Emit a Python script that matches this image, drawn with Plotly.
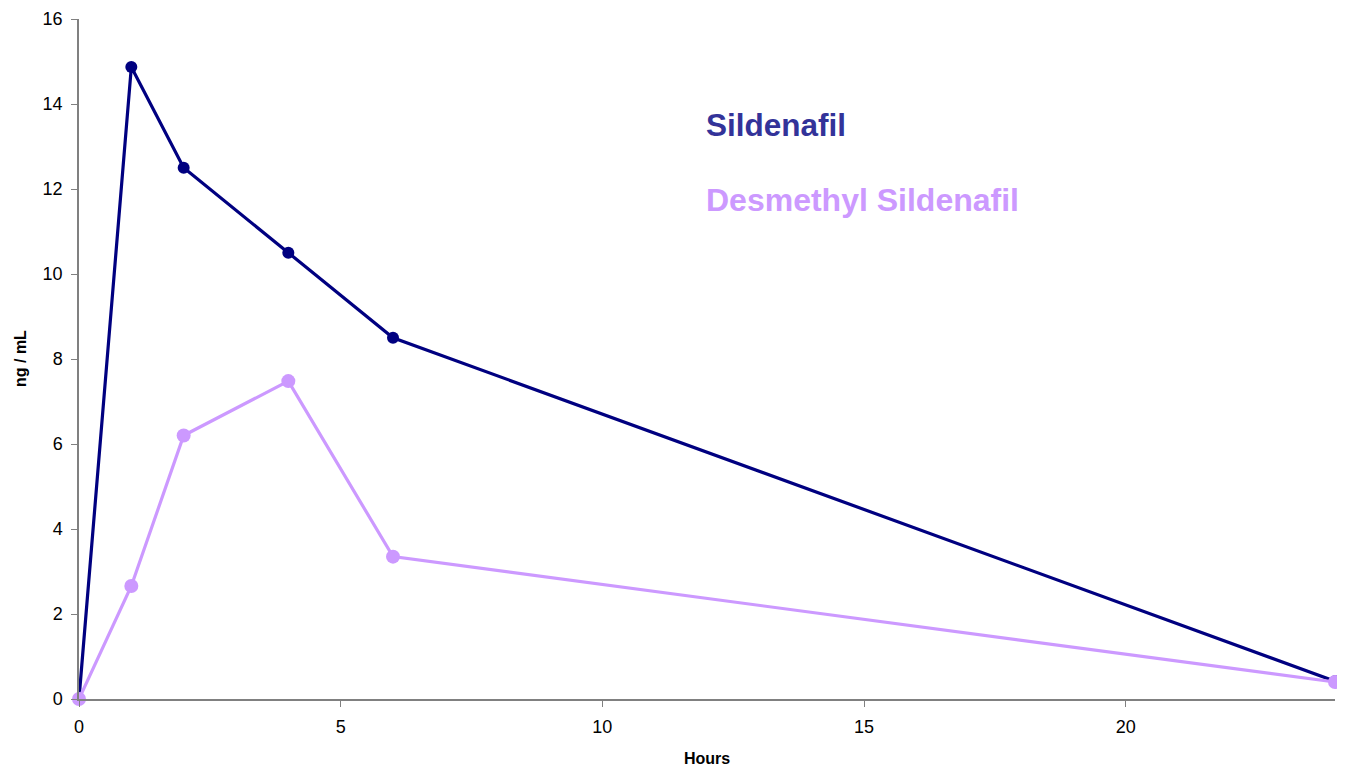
import plotly.graph_objects as go

hours = [0, 1, 2, 4, 6, 24]
sildenafil = [0, 14.87, 12.5, 10.5, 8.5, 0.42]
desmethyl = [0, 2.66, 6.2, 7.48, 3.35, 0.4]
x_ticks = [0, 5, 10, 15, 20]
y_ticks = [0, 2, 4, 6, 8, 10, 12, 14, 16]

navy = "#000080"
lilac = "#CC99FF"

fig = go.Figure()
fig.add_trace(go.Scatter(x=hours, y=sildenafil, mode="lines+markers", name="Sildenafil",
                         line=dict(color=navy, width=3.2), marker=dict(color=navy, size=12),
                         cliponaxis=False))
fig.add_trace(go.Scatter(x=hours, y=desmethyl, mode="lines+markers", name="Desmethyl Sildenafil",
                         line=dict(color=lilac, width=3.2), marker=dict(color=lilac, size=14),
                         cliponaxis=False))

font_family = "Liberation Sans, Arial"
axis_common = dict(showgrid=False, zeroline=False, showline=True, linecolor="#808080", linewidth=1.5,
                   ticks="outside", ticklen=6, tickcolor="#808080", automargin=False,
                   ticklabelstandoff=5,
                   tickfont=dict(family=font_family, size=18, color="black"))

fig.update_layout(
    width=1345, height=768,
    margin=dict(l=71, r=18, t=11, b=77, autoexpand=False),
    paper_bgcolor="white", plot_bgcolor="white",
    showlegend=False,
    xaxis=dict(range=[0, 24], tickvals=x_ticks, **axis_common),
    yaxis=dict(range=[0, 16], tickvals=y_ticks, **axis_common),
    annotations=[
        dict(x=11.95, y=13.5, xref="x", yref="y", text="<b>Sildenafil</b>", showarrow=False, xanchor="left",
             font=dict(family=font_family, size=31.5, color="#333399")),
        dict(x=11.95, y=11.73, xref="x", yref="y", text="<b>Desmethyl Sildenafil</b>", showarrow=False, xanchor="left",
             font=dict(family=font_family, size=32, color=lilac)),
        dict(x=0.5, y=0, xref="paper", yref="paper", yshift=-59, text="<b>Hours</b>", showarrow=False,
             xanchor="center", yanchor="middle", font=dict(family=font_family, size=16, color="black")),
        dict(x=0, y=0.5, xref="paper", yref="paper", xshift=-59, text="<b>ng / mL</b>", showarrow=False,
             textangle=-90, xanchor="center", yanchor="middle",
             font=dict(family=font_family, size=16, color="black")),
    ],
)

fig.write_html("out.html")
